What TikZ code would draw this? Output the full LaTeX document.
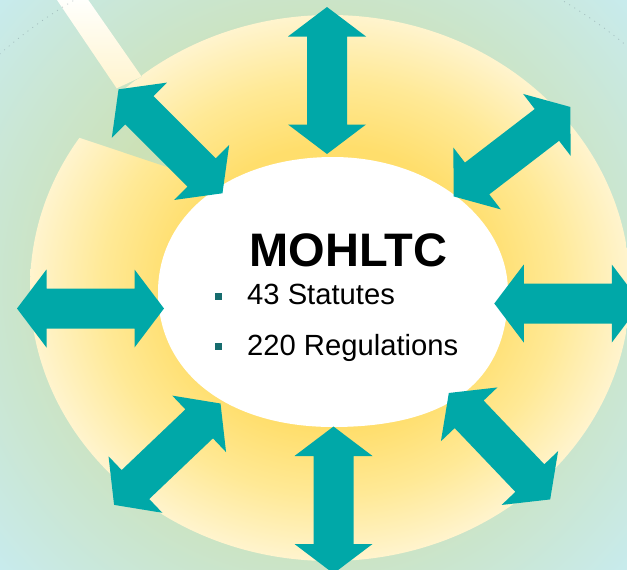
\documentclass[tikz,border=0pt]{standalone}
\usepackage{fontspec}
\setmainfont{Liberation Sans}
\usetikzlibrary{calc}

% palette
\definecolor{bgcyan}{RGB}{200,235,237}
\definecolor{bggreen}{RGB}{204,225,182}
\definecolor{sundeep}{RGB}{255,222,108}
\definecolor{sunmid}{RGB}{255,233,150}
\definecolor{sunpale}{RGB}{255,244,206}
\definecolor{arrowteal}{RGB}{0,168,168}
\definecolor{bulletteal}{RGB}{22,108,110}
\definecolor{beamtop}{RGB}{255,255,252}
\definecolor{beambot}{RGB}{255,244,206}
\definecolor{dotgrey}{RGB}{120,140,150}

% soft sky behind the sun, and the glow of the sun itself (path edge = 25bp)
\pgfdeclareradialshading{skyglow}{\pgfpoint{0bp}{0bp}}{color(0bp)=(bggreen); color(13bp)=(bggreen); color(25bp)=(bgcyan); color(50bp)=(bgcyan)}
\pgfdeclareradialshading{sunglow}{\pgfpoint{0bp}{0bp}}{color(0bp)=(sundeep); color(13bp)=(sundeep); color(19bp)=(sunmid); color(25bp)=(sunpale); color(50bp)=(sunpale)}

\tikzset{
  dblarrow/.pic={
    \fill[arrowteal] (-73.5,0) -- (-44,39) -- (-44,20) -- (44,20) -- (44,39)
      -- (73.5,0) -- (44,-39) -- (44,-20) -- (-44,-20) -- (-44,-39) -- cycle;
  },
  titletext/.style={inner sep=0pt, font=\fontsize{47}{52}\selectfont\bfseries},
  itemtext/.style={inner sep=0pt, anchor=base west, font=\fontsize{29.2}{34}\selectfont},
  bulletmark/.style={inner sep=0pt, minimum size=7.5pt, fill=bulletteal},
  faintdots/.style={draw=dotgrey, draw opacity=.45, line width=.8pt, dash pattern=on 1pt off 5pt},
}

\begin{document}
\begin{tikzpicture}[x=1pt, y=-1pt]
\useasboundingbox (0,0) rectangle (627,570);

% sky
\begin{scope}
  \clip (0,0) rectangle (627,570);
  \shade[shading=skyglow] (313.5,285) circle [radius=424pt];
\end{scope}

% sun disc
\shade[shading=sunglow] (330,288) ellipse [x radius=300pt, y radius=273pt];

% notch cut out of the sun where the ray enters
\begin{scope}
  \clip (118.3,89.3) -- (141.7,76.7) -- (141.7,40) -- (20,100) -- (40,125)
        -- (78.3,137.3) -- (200,178) -- cycle;
  \shade[shading=skyglow] (313.5,285) circle [radius=424pt];
\end{scope}

% light ray
\shade[top color=beamtop, bottom color=beambot]
  (57,0) -- (88.3,0) -- (141.7,76.7) -- (116.7,88.3) -- cycle;

% faint dotted halo
\begin{scope}
  \clip (0,0) rectangle (627,570);
  \path[faintdots] (318,416) circle [radius=482pt];
\end{scope}

% white centre
\fill[white] (508,292) .. controls (508,381.1) and (448.5,427) .. (333,427)
  .. controls (228,427) and (158,373) .. (158,292)
  .. controls (158,213.7) and (231.5,157) .. (333,157)
  .. controls (429.3,157) and (508,217.8) .. (508,292) -- cycle;

% two-way arrows around the centre
\pic[rotate=90]    at (327,80.5)    {dblarrow};
\pic[rotate=90]    at (333.5,500)   {dblarrow};
\pic               at (90.5,308.5)  {dblarrow};
\pic               at (567.8,303.5) {dblarrow};
\pic[rotate=-45]   at (170.5,141.3) {dblarrow};
\pic[rotate=37.5]  at (512,151.7)   {dblarrow};
\pic[rotate=-46.4] at (499.5,446.2) {dblarrow};
\pic[rotate=43.6]  at (167.3,454.2) {dblarrow};

% text
\node[titletext, anchor=base] (title) at (348.5,266) {MOHLTC};
\node[bulletmark] (b1) at (218.5,296.5) {};
\node[itemtext] (statutes) at (247,304.5) {43 Statutes};
\node[bulletmark] (b2) at (218.5,346.5) {};
\node[itemtext] (regs) at (247,355.5) {220 Regulations};
\end{tikzpicture}
\end{document}
